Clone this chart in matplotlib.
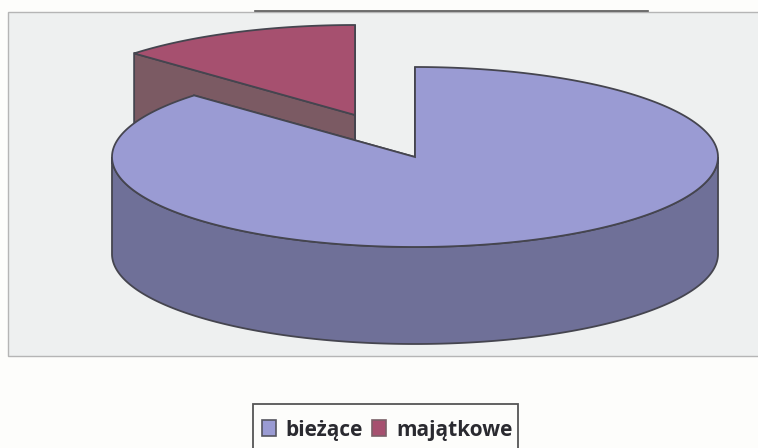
import numpy as np
import matplotlib
matplotlib.use("Agg")
import matplotlib.pyplot as plt
from matplotlib.patches import Rectangle, Polygon

categories = ["bieżące", "majątkowe"]
values = [87, 13]
top_colors = ["#9a9bd3", "#a6506f"]
side_colors = ["#6f7098", "#7b5a63"]

EDGE = "#45454f"
RX, RY, DEPTH = 303, 90, 97
CENTER = (415, 157)
EXPLODED = (355, 115)

fig = plt.figure(figsize=(7.58, 4.48), dpi=100, facecolor="#fdfdfb")
ax = fig.add_axes([0, 0, 1, 1])
ax.set_xlim(0, 758)
ax.set_ylim(448, 0)
ax.axis("off")

ax.add_patch(Rectangle((8, 12), 755, 344, fc="#eef0f0", ec="#b5b5b5", lw=1))
ax.plot([255, 648], [11.5, 11.5], color="#555555", lw=1.2)

fractions = np.array(values) / sum(values)
ends = np.cumsum(fractions) * 2 * np.pi
starts = ends - fractions * 2 * np.pi


def rim(center, a):
    # angle measured clockwise from 12 o'clock
    return center[0] + RX * np.sin(a), center[1] - RY * np.cos(a)


def draw_slice(center, a0, a1, top, side):
    cx, cy = center
    # cut faces (at the start and end radii)
    for a in (a0, a1):
        x, y = rim(center, a)
        ax.add_patch(Polygon([(cx, cy), (x, y), (x, y + DEPTH), (cx, cy + DEPTH)],
                             closed=True, fc=side, ec=EDGE, lw=1.3))
    # outer wall: the part facing the viewer (between 90 and 270 degrees)
    lo, hi = max(a0, np.pi / 2), min(a1, 3 * np.pi / 2)
    if hi > lo:
        t = np.linspace(lo, hi, 200)
        xs, ys = rim(center, t)
        pts = list(zip(xs, ys)) + list(zip(xs[::-1], ys[::-1] + DEPTH))
        ax.add_patch(Polygon(pts, closed=True, fc=side, ec=EDGE, lw=1.3))
    # top face
    t = np.linspace(a0, a1, 300)
    xs, ys = rim(center, t)
    ax.add_patch(Polygon([(cx, cy)] + list(zip(xs, ys)), closed=True,
                         fc=top, ec=EDGE, lw=1.3))


draw_slice(EXPLODED, starts[1], ends[1], top_colors[1], side_colors[1])
draw_slice(CENTER, starts[0], ends[0], top_colors[0], side_colors[0])

# legend
ax.add_patch(Rectangle((253, 404), 265, 60, fc="#fdfdfb", ec="#555555", lw=1.3, clip_on=True))
font = dict(family="Open Sans", fontweight="bold", fontsize=15, color="#2a2a30",
            va="baseline", ha="left")
ax.add_patch(Rectangle((262, 420), 14, 16, fc=top_colors[0], ec="#55555f", lw=1.2))
ax.text(285, 436, categories[0], **font)
ax.add_patch(Rectangle((372, 420), 14, 16, fc=top_colors[1], ec="#7b6068", lw=1.2))
ax.text(396, 436, categories[1], **font)

fig.savefig("out.png", dpi=100, facecolor=fig.get_facecolor())
